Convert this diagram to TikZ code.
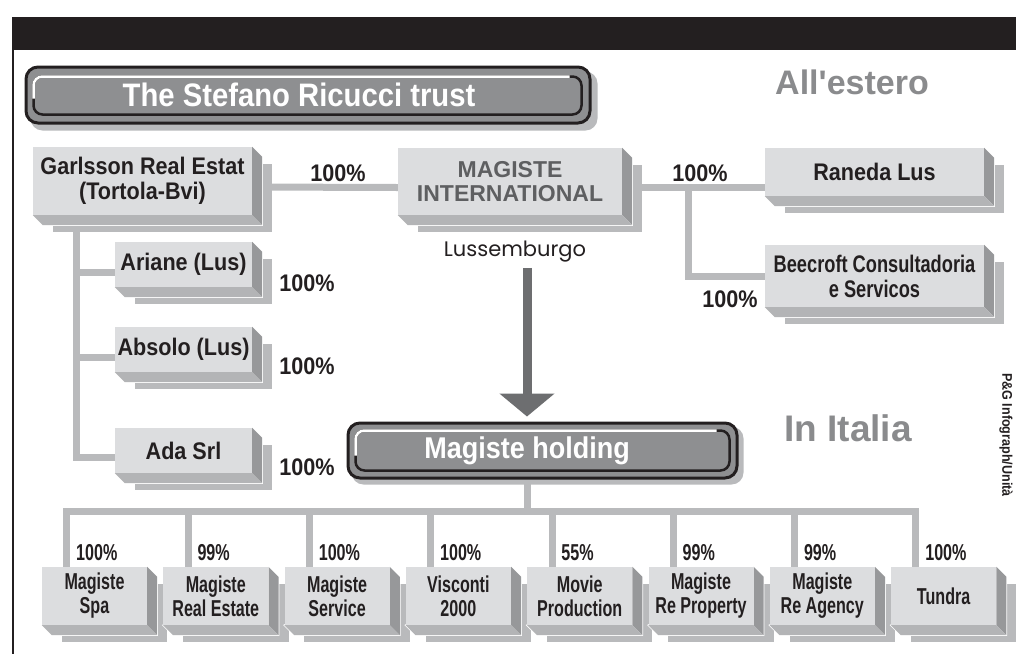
\documentclass[tikz,border=0pt]{standalone}
\usepackage{fontspec}
\setmainfont{Liberation Sans}
\newfontfamily\condfont{Liberation Sans}[FakeStretch=0.9]
\newfontfamily\midfont{Liberation Sans}[FakeStretch=0.76]
\newfontfamily\narrowfont{Liberation Sans}[FakeStretch=0.7]
\newfontfamily\geofont{Poppins}
\usetikzlibrary{positioning,calc,arrows.meta}
\pgfdeclarelayer{background}
\pgfsetlayers{background,main}

\definecolor{inkblack}{HTML}{231F20}
\definecolor{facegray}{HTML}{DCDDDF}
\definecolor{sidegray}{HTML}{97989A}
\definecolor{basegray}{HTML}{B3B4B6}
\definecolor{shadowgray}{HTML}{B9BABC}
\definecolor{linegray}{HTML}{B9BABC}
\definecolor{pillgray}{HTML}{8E8F91}
\definecolor{arrowgray}{HTML}{6D6E70}
\definecolor{labelgray}{HTML}{5E5F61}
\definecolor{titlegray}{HTML}{8A8B8D}

\begin{document}
\begin{tikzpicture}[x=1pt, y=-1pt,
    slab/.style={fill=facegray, text=inkblack, inner sep=0pt, align=center, font=\condfont\bfseries\fontsize{24}{25}\selectfont},
    tile/.style={slab, minimum width=105pt, minimum height=58pt, font=\narrowfont\bfseries\fontsize{23}{24}\selectfont},
    pill/.style={draw=inkblack, line width=3pt, fill=pillgray, rounded corners=12pt, text=white, inner sep=0pt, font=\condfont\bfseries\fontsize{32.5}{34}\selectfont},
    pct/.style={text=inkblack, inner sep=0pt, font=\condfont\bfseries\fontsize{24}{25}\selectfont},
    tilepct/.style={text=inkblack, inner sep=0pt, anchor=west, font=\narrowfont\bfseries\fontsize{23}{24}\selectfont},
    region/.style={text=titlegray, inner sep=0pt, font=\bfseries\fontsize{34}{36}\selectfont},
    link/.style={draw=linegray, line width=7pt},
    bigarrow/.style={draw=arrowgray, line width=9pt, -{Triangle[width=54pt, length=23pt]}}
]

\useasboundingbox (0,0) rectangle (1016,654);

% frame: black band and left rule
\fill[inkblack] (12,17) rectangle (1016,50);
\draw[inkblack, line width=1.5pt] (13,50) -- (13,654);

% headings
\node[pill, minimum width=564pt, minimum height=56pt] (trust) at (308,95) {The Stefano Ricucci trust\kern18pt};
\draw[inkblack, line width=2.5pt, rounded corners=9pt] ($(trust.north west)+(9,11)$) rectangle ($(trust.south east)+(-10,-10)$);
\draw[white, line width=2.5pt, rounded corners=9pt] ($(trust.south west)+(9,-26)$) -- ($(trust.north west)+(9,11)$) -- ($(trust.north east)+(-22,11)$);

\node[pill, minimum width=389pt, minimum height=55pt, font=\condfont\bfseries\fontsize{30}{32}\selectfont] (holding) at (542.5,450.5) {Magiste holding\kern31pt};
\draw[inkblack, line width=2.5pt, rounded corners=9pt] ($(holding.north west)+(9,9)$) rectangle ($(holding.south east)+(-9,-9)$);
\draw[white, line width=2.5pt, rounded corners=9pt] ($(holding.south west)+(9,-24)$) -- ($(holding.north west)+(9,9)$) -- ($(holding.north east)+(-22,9)$);

\node[region] (abroad) at (852,82) {All\textquotesingle estero};
\node[region, font=\bfseries\fontsize{37}{39}\selectfont] (italy) at (848,428) {In Italia};
\node[rotate=-90, inner sep=0pt, text=inkblack, font=\condfont\bfseries\fontsize{14}{15}\selectfont] (credit) at (1006,435) {P\&G Infograph/Unità};

% abroad
\node[slab, minimum width=219pt, minimum height=68pt] (garlsson) at (142.5,181) {Garlsson Real Estat\\(Tortola-Bvi)};
\node[slab, minimum width=224pt, minimum height=67pt, text=labelgray, font=\bfseries\fontsize{23}{24}\selectfont] (magintl) at (510,181.5) {MAGISTE\\INTERNATIONAL};
\node[inner sep=0pt, text=inkblack, font=\geofont\fontsize{21}{22}\selectfont] (lux) at (515,252) {Lussemburgo};
\node[slab, minimum width=219pt, minimum height=48pt] (raneda) at (874.5,172) {Raneda Lus};
\node[slab, minimum width=219pt, minimum height=62pt, font=\midfont\bfseries\fontsize{24}{25}\selectfont] (beecroft) at (874.5,276) {Beecroft Consultadoria\\e Servicos};
\node[slab, minimum width=137pt, minimum height=45pt] (ariane) at (183.5,264.5) {Ariane (Lus)};
\node[slab, minimum width=137pt, minimum height=45pt] (absolo) at (183.5,349.5) {Absolo (Lus)};
\node[slab, minimum width=137pt, minimum height=45pt] (ada) at (183.5,450.5) {Ada Srl};

\node[pct] (pgm) at (338,173) {100\%};
\node[pct] (pmr) at (700,173) {100\%};
\node[pct] (pmb) at (730,299) {100\%};
\node[pct] (pga) at (307,283) {100\%};
\node[pct] (pgb) at (307,366) {100\%};
\node[pct] (pgc) at (307,467) {100\%};

\draw[bigarrow] ($(lux.south)+(12,5)$) -- ($(lux.south |- holding.north)+(12,-5)$);

% Italy
\foreach \n/\txt/\pc [count=\i from 0] in {spa/{Magiste\\Spa}/100, restate/{Magiste\\Real Estate}/99, service/{Magiste\\Service}/100, visconti/{Visconti\\2000}/100, movie/{Movie\\Production}/55, property/{Magiste\\Re Property}/99, agency/{Magiste\\Re Agency}/99, tundra/Tundra/100} {
  \node[tile] (\n) at ({94.5+121.3*\i},596) {\txt};
  \node[tilepct] (pc\n) at ({76+121.3*\i},553) {\pc\%};
  \begin{pgfonlayer}{background}
    \draw[link] ($(holding.south)+(-15,0)$) -- ++(0,32) -| ([xshift=25pt]\n.north west);
  \end{pgfonlayer}
}

\begin{pgfonlayer}{background}
  \draw[link] ($(garlsson.east)+(0,6)$) -- ($(magintl.west)+(0,6)$);
  \draw[link] ($(magintl.east)+(0,6)$) coordinate (fork) -- (fork -| raneda.west);
  \draw[link] ([xshift=66pt]fork) |- (beecroft.west);
  \draw[link] ([xshift=44pt]garlsson.south west) |- ($(ariane.west)+(0,8)$);
  \draw[link] ([xshift=44pt]garlsson.south west) |- ($(absolo.west)+(0,8)$);
  \draw[link] ([xshift=44pt]garlsson.south west) |- ($(ada.west)+(0,7)$);
  % pill shadows
  \fill[shadowgray, rounded corners=12pt] ($(trust.north west)+(6,6)$) rectangle ($(trust.south east)+(6,6)$);
  \fill[shadowgray, rounded corners=12pt] ($(holding.north west)+(5,5)$) rectangle ($(holding.south east)+(5,5)$);
  % extruded sides and drop shadows
  \foreach \b in {garlsson,magintl,raneda,beecroft,ariane,absolo,ada,spa,restate,service,visconti,movie,property,agency,tundra} {
    \fill[shadowgray] ($(\b.north west)+(20,17)$) rectangle ($(\b.south east)+(20,17)$);
    \filldraw[white, line width=1.5pt] (\b.north east) -- ++(10,10) -- ($(\b.south east)+(10,10)$) -- ($(\b.south west)+(10,10)$) -- (\b.south west) -- cycle;
    \fill[sidegray] (\b.north east) -- ++(10,10) -- ($(\b.south east)+(10,10)$) -- (\b.south east) -- cycle;
    \fill[basegray] (\b.south west) -- ++(10,10) -- ($(\b.south east)+(10,10)$) -- (\b.south east) -- cycle;
  }
\end{pgfonlayer}

\end{tikzpicture}
\end{document}
